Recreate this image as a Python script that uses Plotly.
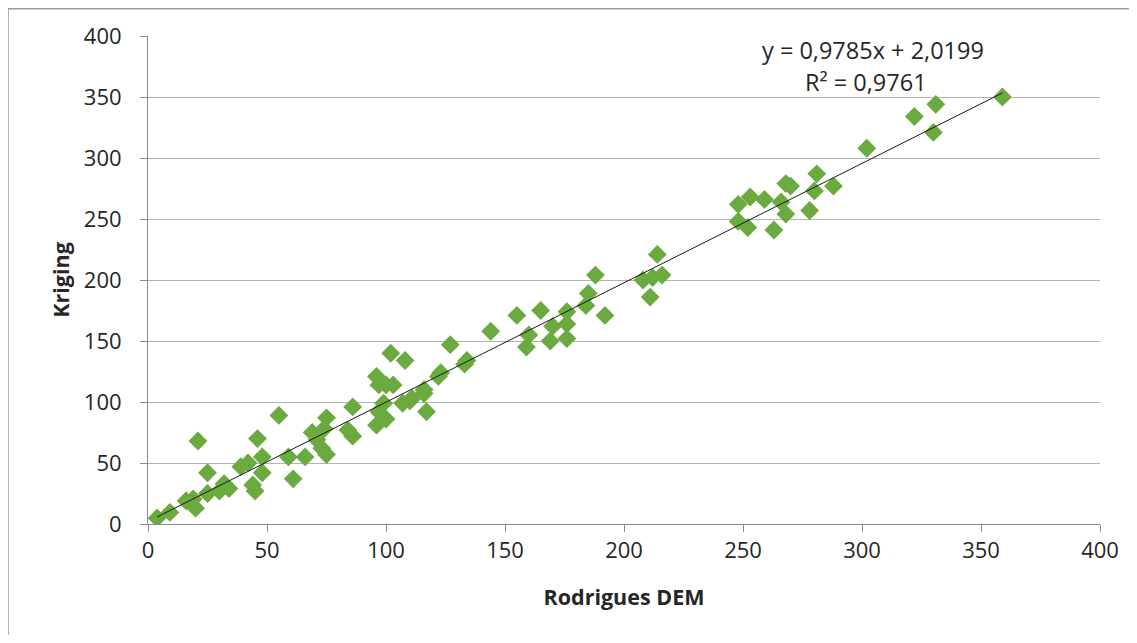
import plotly.graph_objects as go

# Data
dem = [3.8, 9.2, 16, 20, 19, 21, 25, 25, 30, 32, 34, 39, 42, 44, 45, 46, 48, 48,
       55, 59, 61, 66, 69, 71, 74, 73, 75, 75, 86, 84, 86, 96, 97, 97, 96, 100,
       99, 100, 102, 103, 108, 107, 110, 111, 116, 116, 117, 122, 123, 127, 133,
       134, 144, 155, 159, 160, 165, 169, 170, 176, 176, 176, 184, 185, 188, 192,
       208, 211, 212, 214, 216, 248, 253, 248, 252, 259, 263, 266, 268, 270, 268,
       278, 280, 281, 288, 302, 322, 331, 330, 359]
kriging = [4.9, 9.5, 19, 13, 20.5, 68, 42, 25, 27, 33, 29, 47, 50, 32, 27, 70, 55, 42,
           89, 55, 37, 55, 75, 69, 78, 62, 57, 87, 96, 77, 72, 121, 114, 92, 81, 114,
           99, 86, 140, 114, 134, 99, 101, 103, 110, 107, 92, 121, 124, 147, 131,
           134, 158, 171, 145, 155, 175, 150, 162, 174, 152, 164, 179, 189, 204, 171,
           200, 186, 202, 221, 204, 262, 268, 248, 243, 266, 241, 264, 279, 277, 254,
           257, 273, 287, 277, 308, 334, 344, 321, 350]

slope = 0.9785
intercept = 2.0199
r2 = 0.9761
eq_text = "y = 0,9785x + 2,0199"
r2_text = "R² = 0,9761"
x_title = "Rodrigues DEM"
y_title = "Kriging"
ticks = [0, 50, 100, 150, 200, 250, 300, 350, 400]

xmin, xmax = min(dem), max(dem)
trend_x = [xmin, xmax]
trend_y = [slope * v + intercept for v in trend_x]

FONT = "Open Sans"
GRID = "#B3B3B3"
AXIS = "#8C8C8C"
TXT = "#262626"

fig = go.Figure()
fig.add_trace(go.Scatter(
    x=dem, y=kriging, mode="markers",
    marker=dict(symbol="diamond", size=14.5, color="#6BAA3F", line=dict(width=0)),
    showlegend=False, hoverinfo="x+y"))
fig.add_trace(go.Scatter(
    x=trend_x, y=trend_y, mode="lines",
    line=dict(color="#1a1a1a", width=1), showlegend=False, hoverinfo="skip"))

fig.add_annotation(x=304.6, y=388.5, xref="x", yref="y", text=eq_text, showarrow=False,
                   xanchor="center", yanchor="middle",
                   font=dict(family=FONT, size=23.5, color=TXT))
fig.add_annotation(x=301.7, y=362.3, xref="x", yref="y", text=r2_text, showarrow=False,
                   xanchor="center", yanchor="middle",
                   font=dict(family=FONT, size=23.5, color=TXT))

# Outer chart border (top and left visible)
fig.add_shape(type="line", xref="paper", yref="paper",
              x0=-140/952, x1=1 + 37/952, y0=1 + 27.3/488, y1=1 + 27.3/488,
              line=dict(color="#9A9A9A", width=1.5))
fig.add_shape(type="line", xref="paper", yref="paper",
              x0=-140/952, x1=-140/952, y0=1 + 28/488, y1=-111/488,
              line=dict(color="#9A9A9A", width=1.5))

fig.update_layout(
    width=1129, height=635,
    margin=dict(l=140, r=37, t=28, b=119),
    paper_bgcolor="white", plot_bgcolor="white",
    font=dict(family=FONT, size=22, color=TXT),
    xaxis=dict(range=[0, 400], tickvals=ticks, showgrid=False, zeroline=False,
               showline=True, linecolor=AXIS, linewidth=1,
               ticks="outside", ticklen=7, tickcolor=AXIS,
               tickfont=dict(family=FONT, size=22, color=TXT),
               title=dict(text="<b>" + x_title + "</b>", standoff=26,
                          font=dict(family=FONT, size=21.5, color=TXT))),
    yaxis=dict(range=[0, 400], tickvals=ticks, showgrid=True, gridcolor=GRID,
               gridwidth=1, zeroline=False,
               showline=True, linecolor=AXIS, linewidth=1,
               ticks="outside", ticklen=7, tickcolor=AXIS,
               ticklabelstandoff=14,
               tickfont=dict(family=FONT, size=22, color=TXT),
               title=dict(text="<b>" + y_title + "</b>", standoff=8,
                          font=dict(family=FONT, size=21.5, color=TXT))),
)

fig.write_html("out.html")
